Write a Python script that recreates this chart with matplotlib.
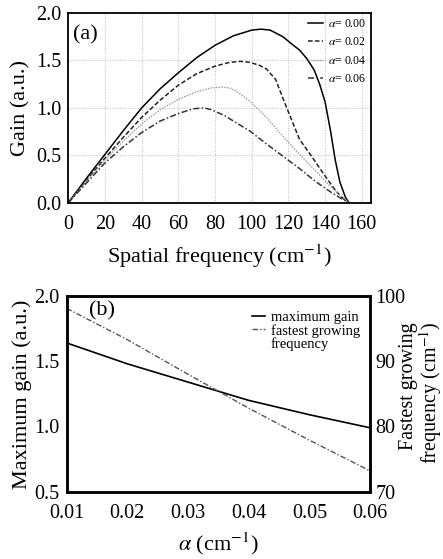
import matplotlib
matplotlib.use("Agg")
import matplotlib.pyplot as plt
from matplotlib.lines import Line2D

plt.rcParams['font.family'] = ['Liberation Serif', 'DejaVu Serif']
plt.rcParams['mathtext.fontset'] = 'stix'

# ---- panel (a) data ----
freq_00 = [0, 10, 20, 30, 40, 50, 60, 70, 80, 90, 100, 105, 110, 117, 122, 126, 130, 134, 137, 140, 143, 145.5, 148, 151, 153]
gain_00 = [0, 0.26, 0.51, 0.76, 1.0, 1.2, 1.37, 1.53, 1.66, 1.76, 1.82, 1.83, 1.82, 1.75, 1.67, 1.61, 1.52, 1.40, 1.25, 1.06, 0.75, 0.45, 0.22, 0.06, 0]
freq_02 = [0, 10, 20, 30, 40, 50, 60, 70, 80, 88, 94, 99, 104, 108, 113, 117, 122, 126, 134, 140, 146, 150, 153]
gain_02 = [0, 0.24, 0.47, 0.69, 0.9, 1.08, 1.24, 1.36, 1.44, 1.48, 1.49, 1.48, 1.45, 1.41, 1.30, 1.10, 0.86, 0.67, 0.45, 0.28, 0.12, 0.04, 0]
freq_04 = [0, 10, 20, 30, 40, 50, 60, 70, 78, 84, 88, 92, 99, 108, 117, 126, 135, 144, 150, 153]
gain_04 = [0, 0.23, 0.45, 0.65, 0.83, 0.98, 1.09, 1.17, 1.21, 1.22, 1.21, 1.17, 1.07, 0.90, 0.70, 0.51, 0.33, 0.15, 0.05, 0]
freq_06 = [0, 10, 20, 30, 40, 50, 60, 68, 74, 78, 85, 99, 108, 117, 126, 135, 144, 150, 153]
gain_06 = [0, 0.21, 0.42, 0.59, 0.74, 0.86, 0.94, 0.99, 1.0, 0.98, 0.92, 0.755, 0.62, 0.49, 0.36, 0.22, 0.10, 0.03, 0]
labels_a = [r'$\alpha$= 0.00', r'$\alpha$= 0.02', r'$\alpha$= 0.04', r'$\alpha$= 0.06']
xticks_a = [0, 20, 40, 60, 80, 100, 120, 140, 160]
yticks_a = ['0.0', '0.5', '1.0', '1.5', '2.0']

# ---- panel (b) data ----
alpha = [0.01, 0.02, 0.03, 0.04, 0.05, 0.06]
max_gain = [1.64, 1.48, 1.34, 1.20, 1.09, 0.99]
fastest = [98.1, 93.3, 88.0, 82.8, 77.9, 73.2]
xticks_b = ['0.01', '0.02', '0.03', '0.04', '0.05', '0.06']
yticks_b = ['0.5', '1.0', '1.5', '2.0']
yticks_b2 = [70, 80, 90, 100]

TICK = 14.5
LAB = 16

fig = plt.figure(figsize=(4.43, 5.59), dpi=100)

# ---------- (a) ----------
ax1 = fig.add_axes([0.1542, 0.6374, 0.6833, 0.3393])
ax1.plot(freq_00, gain_00, color='black', lw=1.1, ls='-', label=labels_a[0])
ax1.plot(freq_02, gain_02, color='#222222', lw=1.1, ls=(0, (3, 1.5)), label=labels_a[1])
ax1.plot(freq_04, gain_04, color='#999999', lw=1.0, ls=(0, (1, 1)), label=labels_a[2])
ax1.plot(freq_06, gain_06, color='#333333', lw=1.1, ls=(0, (4, 1.5, 1, 1.5)), label=labels_a[3])
ax1.set_xlim(0, 165)
ax1.set_ylim(0, 2.0)
ax1.set_xticks(xticks_a)
ax1.set_yticks([float(v) for v in yticks_a])
ax1.set_yticklabels(yticks_a)
ax1.grid(True, color='#bbbbbb', ls=':', lw=0.7)
ax1.tick_params(length=0, labelsize=TICK)
ax1.tick_params(axis='x', pad=9)
ax1.tick_params(axis='y', pad=5)
for s in ax1.spines.values():
    s.set_linewidth(1.3)
ax1.set_xlabel(r'Spatial frequency (cm$^{-1}$)', fontsize=LAB, labelpad=6)
ax1.set_ylabel('Gain (a.u.)', fontsize=LAB, labelpad=4)
ax1.text(0.016, 0.935, '(a)', transform=ax1.transAxes, fontsize=LAB, va='top', ha='left')
leg1 = ax1.legend(loc='upper right', frameon=False, fontsize=8.5, handlelength=1.3,
                  handletextpad=0.4, labelspacing=0.55, borderaxespad=0.1,
                  borderpad=0.3)

# ---------- (b) ----------
ax2 = fig.add_axes([0.1506, 0.1204, 0.6846, 0.3501])
l1, = ax2.plot(alpha, max_gain, color='black', lw=1.2, ls='-', label='maximum gain')
ax2.set_xlim(0.01, 0.06)
ax2.set_ylim(0.5, 2.0)
ax2.set_xticks(alpha)
ax2.set_xticklabels(xticks_b)
ax2.set_yticks([float(v) for v in yticks_b])
ax2.set_yticklabels(yticks_b)
ax2.tick_params(length=0, labelsize=TICK)
ax2.tick_params(axis='x', pad=9)
ax2.tick_params(axis='y', pad=5)
for s in ax2.spines.values():
    s.set_linewidth(1.8)
ax2.set_xlabel(r'$\alpha$ (cm$^{-1}$)', fontsize=LAB, labelpad=5)
ax2.set_ylabel('Maximum gain (a.u.)', fontsize=LAB, labelpad=2)
ax2.text(0.074, 0.975, '(b)', transform=ax2.transAxes, fontsize=LAB, va='top', ha='left')

ax3 = ax2.twinx()
l2, = ax3.plot(alpha, fastest, color='#555555', lw=1.0, ls=(0, (4, 1.5, 1, 1.5)),
               label='fastest growing')
ax3.set_ylim(70, 100)
ax3.set_yticks(yticks_b2)
ax3.tick_params(length=0, labelsize=TICK, pad=4)
for s in ax3.spines.values():
    s.set_linewidth(1.8)
fig.text(399 / 443, 1 - 322 / 559, 'Fastest growing\nfrequency (cm$^{-1}$)',
         rotation=90, ha='left', va='top', multialignment='right',
         fontsize=14.5, linespacing=0.95)

blank = Line2D([], [], color='none', label='frequency')
leg2 = ax3.legend(handles=[l1, l2, blank], loc='upper right', frameon=False, fontsize=10.5,
                  handlelength=0.9, handletextpad=0.4, labelspacing=0.0,
                  bbox_to_anchor=(0.995, 0.97), borderaxespad=0.2)

fig.savefig('out.png', dpi=100)
